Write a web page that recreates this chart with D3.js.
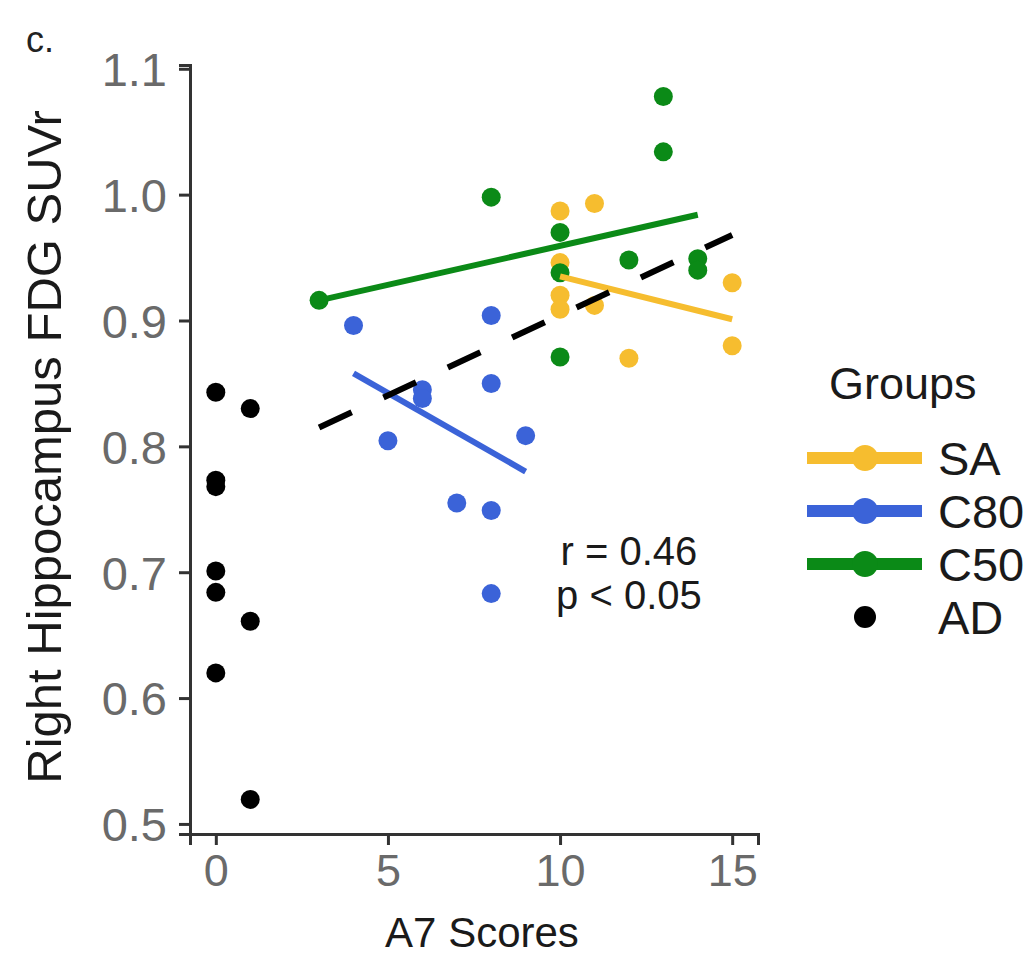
<!DOCTYPE html>
<html>
<head>
<meta charset="utf-8">
<script src="https://cdn.jsdelivr.net/npm/d3@7"></script>
<style>
  body { margin: 0; background: #fff; }
  text { font-family: "Liberation Sans", Arial, Helvetica, sans-serif; }
</style>
</head>
<body>
<div id="vis"></div>
<script>
// ---- data ----
var saX  = [10, 11, 10, 10, 10, 11, 12, 15, 15];
var saY  = [0.987, 0.993, 0.946, 0.920, 0.909, 0.912, 0.870, 0.930, 0.880];
var c80X = [4, 5, 6, 6, 7, 8, 8, 8, 8, 9];
var c80Y = [0.896, 0.8045, 0.845, 0.838, 0.755, 0.904, 0.850, 0.749, 0.683, 0.8085];
var c50X = [3, 8, 10, 10, 10, 12, 13, 13, 14, 14];
var c50Y = [0.916, 0.998, 0.970, 0.938, 0.871, 0.948, 1.078, 1.034, 0.949, 0.940];
var adX  = [0, 0, 0, 0, 0, 0, 1, 1, 1];
var adY  = [0.843, 0.773, 0.768, 0.701, 0.684, 0.620, 0.830, 0.661, 0.5195];

// fitted lines (end points)
var saFit   = [[10, 0.935], [15, 0.901]];
var c80Fit  = [[4, 0.858], [9, 0.780]];
var c50Fit  = [[3, 0.916], [14, 0.984]];
var allFit  = [[3, 0.815], [15, 0.968]];

var xTicks = [0, 5, 10, 15];
var yTicks = [0.5, 0.6, 0.7, 0.8, 0.9, 1.0, 1.1];
var groups = ['SA', 'C80', 'C50', 'AD'];
var colors = {SA: '#f6bd2f', C80: '#3b63d8', C50: '#0b8a17', AD: '#000000'};

var width = 1034, height = 960;
var margin = {left: 190, right: 276, top: 65, bottom: 126};

var svg = d3.select('#vis').append('svg')
    .attr('width', width)
    .attr('height', height);

var xScale = d3.scaleLinear().domain([-0.75, 15.75]).range([margin.left, width - margin.right]);
var yScale = d3.scaleLinear().domain([0.492, 1.103]).range([height - margin.bottom, margin.top]);

var pts = function(xs, ys, g) {
    return xs.map(function(x, i) { return {x: x, y: ys[i], g: g}; });
};
var points = [].concat(pts(saX, saY, 'SA'), pts(c80X, c80Y, 'C80'), pts(c50X, c50Y, 'C50'), pts(adX, adY, 'AD'));

// axes
var xAxis = d3.axisBottom(xScale).tickValues(xTicks).tickSize(11).tickPadding(9).tickFormat(d3.format('d'));
var yAxis = d3.axisLeft(yScale).tickValues(yTicks).tickSize(11).tickPadding(12).tickFormat(d3.format('.1f'));

var gx = svg.append('g')
    .attr('transform', 'translate(0,' + (height - margin.bottom) + ')')
    .call(xAxis);
var gy = svg.append('g')
    .attr('transform', 'translate(' + margin.left + ',0)')
    .call(yAxis);

[gx, gy].forEach(function(g) {
    g.select('.domain').attr('stroke', '#333').attr('stroke-width', 3);
    g.selectAll('.tick line').attr('stroke', '#333').attr('stroke-width', 3);
    g.selectAll('.tick text')
        .attr('fill', '#6a6a6a')
        .style('font-size', '47px')
        .style('font-family', '"Liberation Sans", Arial, sans-serif');
});
gx.selectAll('.tick text').attr('dy', '0.71em').style('font-size', '45px');
gy.selectAll('.tick text').attr('dy', '0.36em');

// points
svg.append('g').selectAll('circle')
    .data(points)
    .enter().append('circle')
    .attr('cx', function(d) { return xScale(d.x); })
    .attr('cy', function(d) { return yScale(d.y); })
    .attr('r', 9.5)
    .attr('fill', function(d) { return colors[d.g]; });

// fit lines
var line = d3.line()
    .x(function(d) { return xScale(d[0]); })
    .y(function(d) { return yScale(d[1]); });

var fits = [[saFit, 'SA'], [c80Fit, 'C80'], [c50Fit, 'C50']];
fits.forEach(function(f) {
    svg.append('path')
        .attr('d', line(f[0]))
        .attr('stroke', colors[f[1]])
        .attr('stroke-width', 6)
        .attr('fill', 'none');
});

svg.append('path')
    .attr('d', line(allFit))
    .attr('stroke', '#000')
    .attr('stroke-width', 6)
    .attr('stroke-dasharray', '36,35')
    .attr('fill', 'none');

// annotation
var ann = svg.append('text')
    .attr('text-anchor', 'middle')
    .attr('fill', '#1a1a1a')
    .style('font-size', '40px');
ann.append('tspan').attr('x', xScale(12)).attr('y', 565).text('r = 0.46');
ann.append('tspan').attr('x', xScale(12)).attr('y', 609).text('p < 0.05');

// axis titles
svg.append('text')
    .attr('x', (margin.left + width - margin.right) / 2 + 8)
    .attr('y', 947)
    .attr('text-anchor', 'middle')
    .attr('fill', '#1a1a1a')
    .style('font-size', '42px')
    .text('A7 Scores');

svg.append('text')
    .attr('transform', 'translate(61,447) rotate(-90)')
    .attr('text-anchor', 'middle')
    .attr('fill', '#1a1a1a')
    .style('font-size', '49px')
    .text('Right Hippocampus FDG SUVr');

svg.append('text')
    .attr('x', 26)
    .attr('y', 52)
    .attr('fill', '#222')
    .style('font-size', '36px')
    .text('c.');

// legend
var legend = svg.append('g');
legend.append('text')
    .attr('x', 829)
    .attr('y', 399)
    .attr('fill', '#1a1a1a')
    .style('font-size', '45px')
    .text('Groups');

var rowY = d3.scalePoint().domain(groups).range([458, 617]);
var keys = legend.selectAll('g.key')
    .data(groups)
    .enter().append('g')
    .attr('class', 'key')
    .attr('transform', function(d) { return 'translate(0,' + rowY(d) + ')'; });

keys.filter(function(d) { return d !== 'AD'; })
    .append('line')
    .attr('x1', 807).attr('x2', 922)
    .attr('stroke', function(d) { return colors[d]; })
    .attr('stroke-width', 12);
keys.append('circle')
    .attr('cx', 865)
    .attr('r', function(d) { return d === 'AD' ? 11 : 13; })
    .attr('fill', function(d) { return colors[d]; });
keys.append('text')
    .attr('x', 938)
    .attr('dy', '0.36em')
    .attr('fill', '#1a1a1a')
    .style('font-size', '47px')
    .text(function(d) { return d; });
</script>
</body>
</html>
